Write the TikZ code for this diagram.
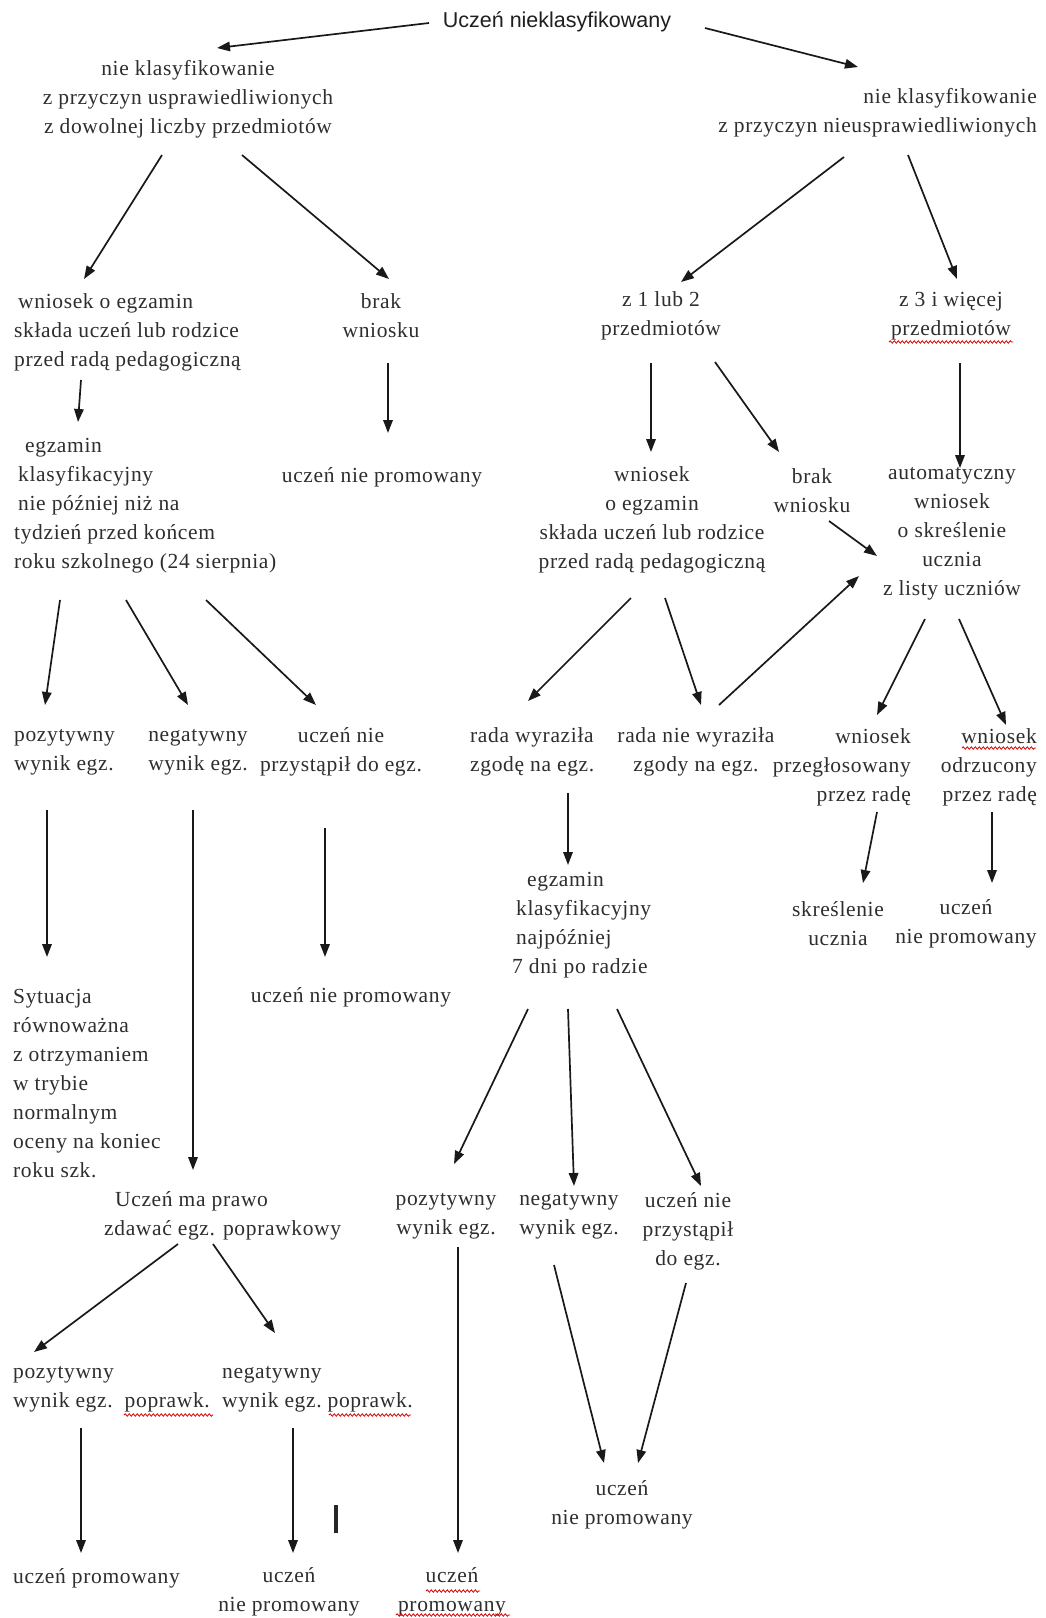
\documentclass[tikz,border=0pt]{standalone}
\usepackage{fontspec}
\setmainfont{Liberation Serif}[LetterSpace=3]
\newfontfamily\titlefont{Liberation Sans}
\usetikzlibrary{arrows.meta,calc,decorations.pathmorphing}
\begin{document}
\begin{tikzpicture}[x=1pt,y=-1pt,
  txt/.style={inner sep=0pt, font=\fontsize{21.5}{29}\selectfont, text=black!82, align=center},
  arr/.style={line width=1.7pt, draw=black!90, -{Triangle[length=13pt,width=9.5pt]}},
  wavy/.style={draw=red!85!black, line width=0.8pt, decorate, decoration={snake, amplitude=1.2pt, segment length=4pt}}]
\fill[white] (0,0) rectangle (1046,1618);
\useasboundingbox (0,0) rectangle (1046,1618);

% nodes
\node[txt, font={\titlefont\fontsize{21.5}{26}\selectfont}, text=black!88] (T0) at (557,22) {Uczeń nieklasyfikowany};
\node[txt] (A) at (188,99) {nie klasyfikowanie\\ z przyczyn usprawiedliwionych\\ z dowolnej liczby przedmiotów};
\node[txt, align=right, anchor=east] (B) at (1037,113) {nie klasyfikowanie\\ z przyczyn nieusprawiedliwionych};
\node[txt, align=left, anchor=west] (C) at (14,332) {\hspace*{4pt}wniosek o egzamin\\ składa uczeń lub rodzice\\ przed radą pedagogiczną};
\node[txt] (D) at (381,316) {brak\\ wniosku};
\node[txt] (E) at (661,316) {z 1 lub 2\\ przedmiotów};
\node[txt] (F) at (951,316) {z 3 i więcej\\ przedmiotów};
\node[txt, align=left, anchor=west] (G) at (14,506) {\hspace*{11pt}egzamin\\ \hspace*{4pt}klasyfikacyjny\\ \hspace*{4pt}nie później niż na\\ tydzień przed końcem\\ roku szkolnego (24 sierpnia)};
\node[txt] (H) at (382,477) {uczeń nie promowany};
\node[txt] (I) at (652,520) {wniosek\\ o egzamin\\ składa uczeń lub rodzice\\ przed radą pedagogiczną};
\node[txt] (J) at (812,491) {brak\\ wniosku};
\node[txt] (K) at (952,534) {automatyczny\\ wniosek\\ o skreślenie\\ ucznia\\ z listy uczniów};
\node[txt, align=left, anchor=west] (L) at (14,752) {pozytywny\\ wynik egz.};
\node[txt] (M) at (198,752) {negatywny\\ wynik egz.};
\node[txt] (N) at (341,752) {uczeń nie\\ przystąpił do egz.};
\node[txt, align=left, anchor=west] (O) at (470,752) {rada wyraziła\\ zgodę na egz.};
\node[txt] (P) at (696,752) {rada nie wyraziła\\ zgody na egz.};
\node[txt, align=right, anchor=east] (Q) at (911,767) {wniosek\\ przegłosowany\\ przez radę};
\node[txt, align=right, anchor=east] (R) at (1037,767) {wniosek\\ odrzucony\\ przez radę};
\node[txt, align=left, anchor=west] (S) at (512,925) {\hspace*{15pt}egzamin\\ \hspace*{4pt}klasyfikacyjny\\ \hspace*{4pt}najpóźniej\\ 7 dni po radzie};
\node[txt] (T) at (838,924) {skreślenie\\ ucznia};
\node[txt] (U) at (966,924) {uczeń\\ nie promowany};
\node[txt, align=left, anchor=west] (V) at (13,1084) {Sytuacja\\ równoważna\\ z otrzymaniem\\ w trybie\\ normalnym\\ oceny na koniec\\ roku szk.};
\node[txt] (W) at (351,997) {uczeń nie promowany};
\node[txt, align=left, anchor=west] (X) at (104,1216) {\hspace*{11pt}Uczeń ma prawo\\ zdawać egz. poprawkowy};
\node[txt] (Y) at (446,1216) {pozytywny\\ wynik egz.};
\node[txt] (Z) at (569,1216) {negatywny\\ wynik egz.};
\node[txt] (AA) at (688,1231) {uczeń nie\\ przystąpił\\ do egz.};
\node[txt, align=left, anchor=west] (AB) at (13,1389) {pozytywny\\ wynik egz.\ \ poprawk.};
\node[txt, align=left, anchor=west] (AC) at (222,1389) {negatywny\\ wynik egz.\ poprawk.};
\node[txt, anchor=west] (AD) at (13,1578) {uczeń promowany};
\node[txt] (AE) at (289,1592) {uczeń\\ nie promowany};
\node[txt] (AF) at (452,1592) {uczeń\\ promowany};
\node[txt] (AG) at (622,1505) {uczeń\\ nie promowany};

% connectors
\draw[arr] ($(T0)+(-128,1)$) -- ($(A)+(29,-51)$);
\draw[arr] ($(T0)+(148,6)$) -- ($(B.east)+(-179,-46)$);
\draw[arr] ($(A)+(-26,56)$) -- ($(C.west)+(70,-53)$);
\draw[arr] ($(A)+(54,56)$) -- ($(D)+(8,-37)$);
\draw[arr] ($(B.east)+(-193,44)$) -- ($(E)+(20,-34)$);
\draw[arr] ($(B.east)+(-129,42)$) -- ($(F)+(6,-37)$);
\draw[arr] ($(C.west)+(67,48)$) -- ($(G.west)+(64,-84)$);
\draw[arr] ($(D)+(7,47)$) -- ($(H)+(6,-44)$);
\draw[arr] ($(E)+(-10,47)$) -- ($(I)+(-1,-68)$);
\draw[arr] ($(E)+(54,46)$) -- ($(J)+(-33,-39)$);
\draw[arr] ($(F)+(9,47)$) -- ($(K)+(8,-66)$);
\draw[arr] ($(J)+(17,30)$) -- ($(K)+(-75,22)$);
\draw[arr] ($(P)+(23,-47)$) -- ($(K)+(-93,42)$);
\draw[arr] ($(I)+(-21,78)$) -- ($(O.west)+(58,-51)$);
\draw[arr] ($(I)+(13,78)$) -- ($(P)+(5,-47)$);
\draw[arr] ($(K)+(-27,85)$) -- ($(Q.east)+(-34,-52)$);
\draw[arr] ($(K)+(7,85)$) -- ($(R.east)+(-31,-42)$);
\draw[arr] ($(G.west)+(46,94)$) -- ($(L.west)+(31,-47)$);
\draw[arr] ($(G.west)+(112,94)$) -- ($(M)+(-10,-47)$);
\draw[arr] ($(G.west)+(192,94)$) -- ($(N)+(-25,-47)$);
\draw[arr] ($(L.west)+(33,58)$) -- ($(V.west)+(34,-127)$);
\draw[arr] ($(M)+(-5,58)$) -- ($(X.west)+(89,-46)$);
\draw[arr] ($(N)+(-16,76)$) -- ($(W)+(-26,-40)$);
\draw[arr] ($(O.west)+(98,41)$) -- ($(S.west)+(56,-60)$);
\draw[arr] ($(Q.east)+(-34,45)$) -- ($(T)+(25,-41)$);
\draw[arr] ($(R.east)+(-45,45)$) -- ($(U)+(26,-41)$);
\draw[arr] ($(S.west)+(16,84)$) -- ($(Y)+(8,-52)$);
\draw[arr] ($(S.west)+(56,84)$) -- ($(Z)+(5,-30)$);
\draw[arr] ($(S.west)+(105,84)$) -- ($(AA)+(13,-45)$);
\draw[arr] ($(X.west)+(74,28)$) -- ($(AB.west)+(21,-37)$);
\draw[arr] ($(X.west)+(109,28)$) -- ($(AC.west)+(53,-56)$);
\draw[arr] ($(Y)+(12,31)$) -- ($(AF)+(6,-39)$);
\draw[arr] ($(Z)+(-15,49)$) -- ($(AG)+(-18,-42)$);
\draw[arr] ($(AA)+(-2,52)$) -- ($(AG)+(16,-42)$);
\draw[arr] ($(AB.west)+(68,39)$) -- ($(AD.west)+(68,-25)$);
\draw[arr] ($(AC.west)+(71,39)$) -- ($(AE)+(4,-39)$);

% stray mark
\draw[line width=3.5pt, black!85] (336,1505) -- (336,1533);

% spell-check underlines
\draw[wavy] ($(F)+(-62,26)$) -- ($(F)+(62,26)$);
\draw[wavy] ($(R.east)+(-75,-19)$) -- ($(R.east)+(-1,-19)$);
\draw[wavy] ($(AB.west)+(111,26)$) -- ($(AB.west)+(200,26)$);
\draw[wavy] ($(AC.west)+(107,26)$) -- ($(AC.west)+(189,26)$);
\draw[wavy] ($(AF)+(-26,-1)$) -- ($(AF)+(28,-1)$);
\draw[wavy] ($(AF)+(-56,23)$) -- ($(AF)+(58,23)$);
\end{tikzpicture}
\end{document}
